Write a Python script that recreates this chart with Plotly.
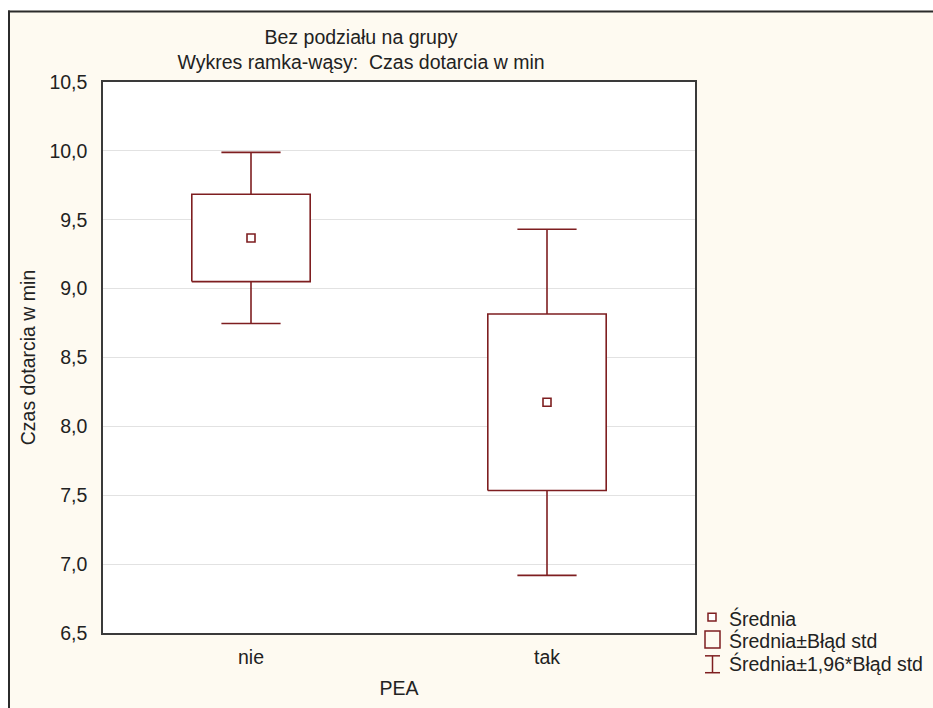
import plotly.graph_objects as go

# ---- data ----
categories = ["nie", "tak"]
means = [9.368, 8.175]
std_err = [0.317, 0.641]
ci_factor = 1.96

title_lines = ["Bez podziału na grupy", "Wykres ramka-wąsy:  Czas dotarcia w min"]
x_title = "PEA"
y_title = "Czas dotarcia w min"
legend_labels = ["Średnia", "Średnia±Błąd std", "Średnia±1,96*Błąd std"]

# ---- style ----
W, H = 933, 708
L, R, T, B = 103, 695, 82, 637          # plot area in pixels
RED = "#7E1E20"
CREAM = "#FEFAF1"
FONT = "Liberation Sans, Arial, sans-serif"
FS = 19.5
BOX_HALF = 0.2
CAP_HALF = 0.1


def px(x):
    return (x - L) / (R - L)


def py(y):
    return (B - y) / (B - T)


xs = list(range(len(categories)))
box_lo = [m - s for m, s in zip(means, std_err)]
box_hi = [m + s for m, s in zip(means, std_err)]
wh_lo = [m - ci_factor * s for m, s in zip(means, std_err)]
wh_hi = [m + ci_factor * s for m, s in zip(means, std_err)]

fig = go.Figure()

# whiskers
wx, wy = [], []
for x, bl, bh, lo, hi in zip(xs, box_lo, box_hi, wh_lo, wh_hi):
    wx += [x, x, None, x, x, None, x - CAP_HALF, x + CAP_HALF, None, x - CAP_HALF, x + CAP_HALF, None]
    wy += [lo, bl, None, bh, hi, None, lo, lo, None, hi, hi, None]
fig.add_trace(go.Scatter(x=wx, y=wy, mode="lines", line=dict(color=RED, width=1.6),
                         showlegend=False, hoverinfo="skip"))

# boxes
for x, bl, bh in zip(xs, box_lo, box_hi):
    fig.add_trace(go.Scatter(
        x=[x - BOX_HALF, x + BOX_HALF, x + BOX_HALF, x - BOX_HALF, x - BOX_HALF],
        y=[bl, bl, bh, bh, bl], mode="lines", fill="toself", fillcolor="white",
        line=dict(color=RED, width=1.6), showlegend=False, hoverinfo="skip"))

# means
fig.add_trace(go.Scatter(x=xs, y=means, mode="markers",
                         marker=dict(symbol="square", size=8, color="white",
                                     line=dict(color=RED, width=1.6)),
                         showlegend=False))

shapes = []
# outer frame: white outside, dark border
shapes.append(dict(type="rect", xref="paper", yref="paper", x0=px(-20), x1=px(W + 20),
                   y0=py(10), y1=py(-20), fillcolor="white", line=dict(width=0), layer="below"))
shapes.append(dict(type="rect", xref="paper", yref="paper", x0=px(-20), x1=px(8),
                   y0=py(H + 20), y1=py(-20), fillcolor="white", line=dict(width=0), layer="below"))
shapes.append(dict(type="line", xref="paper", yref="paper", x0=px(8), x1=px(W + 20),
                   y0=py(11), y1=py(11), line=dict(color="#2b2b2b", width=2)))
shapes.append(dict(type="line", xref="paper", yref="paper", x0=px(9), x1=px(9),
                   y0=py(10), y1=py(H + 20), line=dict(color="#2b2b2b", width=2)))

# legend symbols
shapes.append(dict(type="rect", xref="paper", yref="paper", x0=px(708), x1=px(716),
                   y0=py(625), y1=py(617), line=dict(color=RED, width=1.5), fillcolor="white"))
shapes.append(dict(type="rect", xref="paper", yref="paper", x0=px(705), x1=px(720),
                   y0=py(652), y1=py(635), line=dict(color=RED, width=1.5), fillcolor="rgba(0,0,0,0)"))
shapes.append(dict(type="line", xref="paper", yref="paper", x0=px(712.5), x1=px(712.5),
                   y0=py(677), y1=py(660), line=dict(color=RED, width=1.5)))
shapes.append(dict(type="line", xref="paper", yref="paper", x0=px(705), x1=px(720),
                   y0=py(660), y1=py(660), line=dict(color=RED, width=1.5)))
shapes.append(dict(type="line", xref="paper", yref="paper", x0=px(705), x1=px(720),
                   y0=py(677), y1=py(677), line=dict(color=RED, width=1.5)))

annotations = []
for lbl, yc in zip(legend_labels, [622, 645, 668]):
    annotations.append(dict(text=lbl, xref="paper", yref="paper", x=px(727), y=py(yc),
                            xanchor="left", yanchor="middle", showarrow=False,
                            font=dict(family=FONT, size=FS, color="#222")))

fig.update_layout(
    width=W, height=H,
    margin=dict(l=L, r=W - R, t=T, b=H - B, pad=0),
    paper_bgcolor=CREAM, plot_bgcolor="white",
    separators=", ",
    font=dict(family=FONT, size=FS, color="#222"),
    title=dict(text="<br>".join(title_lines), x=361 / W, xref="container", xanchor="center",
               y=1 - 44 / H, yref="container", yanchor="middle",
               font=dict(family=FONT, size=FS, color="#222")),
    xaxis=dict(range=[-0.5, 1.5], tickvals=xs, ticktext=categories, showgrid=False,
               zeroline=False, showline=True, linecolor="#3a3a3a", linewidth=1.5, mirror=True,
               ticks="", ticklabelstandoff=6,
               title=dict(text=x_title, standoff=14, font=dict(family=FONT, size=FS, color="#222"))),
    yaxis=dict(range=[6.5, 10.5], dtick=0.5, tick0=6.5, tickformat=".1f", showgrid=True,
               gridcolor="#e2e2e2", gridwidth=1, zeroline=False, showline=True,
               linecolor="#3a3a3a", linewidth=1.5, mirror=True, ticks="", ticklabelstandoff=10,
               title=dict(text=y_title, standoff=9, font=dict(family=FONT, size=FS, color="#222"))),
    shapes=shapes, annotations=annotations, showlegend=False,
)

fig.write_html("out.html")
